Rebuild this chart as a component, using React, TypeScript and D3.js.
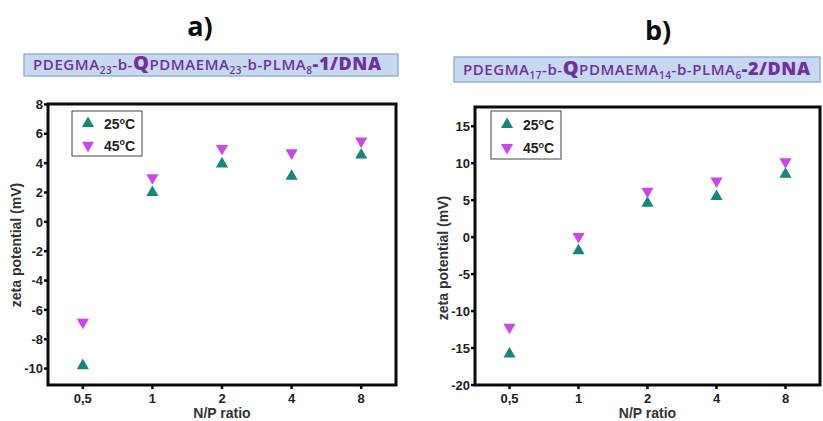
import React from "react";
import * as d3 from "d3";

const categories = ["0,5", "1", "2", "4", "8"];
const a25 = [-9.8, 2.0, 3.95, 3.1, 4.55];
const a45 = [-6.85, 3.0, 5.0, 4.7, 5.5];
const b25 = [-15.8, -1.85, 4.6, 5.5, 8.5];
const b45 = [-12.2, 0.1, 6.2, 7.6, 10.2];
const aTicks = [-10, -8, -6, -4, -2, 0, 2, 4, 6, 8];
const bTicks = [-20, -15, -10, -5, 0, 5, 10, 15];

const TEAL = "#17867c";
const MAGENTA = "#cc46ee";
const PURPLE = "#7030a0";
const INK = "#0a0a0a";
const FONT = "'Liberation Sans', Arial, sans-serif";
const TFONT = "'Open Sans', 'Noto Sans', sans-serif";

const up = d3.symbol().type(d3.symbolTriangle).size(64)();

function Panel({ box, domain, ticks, s25, s45, legend, ylabY }: any) {
  const x = d3.scalePoint().domain(categories).range([box.l + (box.r - box.l) / 10, box.r - (box.r - box.l) / 10]);
  const y = d3.scaleLinear().domain(domain).range([box.b, box.t]);
  const frame = `M${box.l},${box.t}H${box.r}V${box.b}H${box.l}Z`;
  return (
    <g fontFamily={FONT}>
      {ticks.map((t: number) => (
        <g key={t}>
          <line x1={box.l - 4} x2={box.l} y1={y(t)} y2={y(t)} style={{ stroke: INK, strokeWidth: 2.5 }} />
          <text x={box.l - 5} y={y(t)} dy="0.36em" textAnchor="end" fontSize={13} fontWeight="bold" fill="#222">
            {t}
          </text>
        </g>
      ))}
      {categories.map((c) => (
        <g key={c}>
          <line x1={x(c)} x2={x(c)} y1={box.b} y2={box.b + 4} style={{ stroke: INK, strokeWidth: 2.5 }} />
          <text x={x(c)} y={box.b + 18} textAnchor="middle" fontSize={13} fontWeight="bold" fill="#222">
            {c}
          </text>
        </g>
      ))}
      <path d={frame} style={{ fill: "none", stroke: INK, strokeWidth: 3 }} />
      {categories.map((c, i) => (
        <g key={"p" + c}>
          <path d={up as string} transform={`translate(${x(c)},${y(s25[i])})`} fill={TEAL} />
          <path d={up as string} transform={`translate(${x(c)},${y(s45[i])}) rotate(180)`} fill={MAGENTA} />
        </g>
      ))}
      <text
        transform={`translate(${box.l - 27},${ylabY}) rotate(-90)`}
        textAnchor="middle"
        fontSize={14}
        fontWeight="bold"
        fill="#333"
      >
        zeta potential (mV)
      </text>
      <text x={(box.l + box.r) / 2} y={box.b + 33} textAnchor="middle" fontSize={14} fontWeight="bold" fill="#333">
        N/P ratio
      </text>
      <rect x={legend.x} y={legend.y} width={70} height={legend.h} fill="#fff" stroke="#444" strokeWidth={1} />
      {[0, 1].map((k) => (
        <g key={k}>
          <path
            d={up as string}
            transform={`translate(${legend.x + 16},${legend.y + legend.h * (k === 0 ? 0.28 : 0.76)}) ${k === 1 ? "rotate(180)" : ""}`}
            fill={k === 0 ? TEAL : MAGENTA}
          />
          <text x={legend.x + 32} y={legend.y + legend.h * (k === 0 ? 0.28 : 0.76)} dy="0.4em" fontSize={14} fontWeight="bold" fill="#222">
            {k === 0 ? "25" : "45"}
            <tspan fontSize={9} dy="-0.6em">o</tspan>
            <tspan dy="0.4em">C</tspan>
          </text>
        </g>
      ))}
    </g>
  );
}

function Title({ x, y, w, h, tx, tw, subs, num }: any) {
  return (
    <g>
      <rect x={x} y={y} width={w} height={h} fill="#c6d9f0" stroke="#95b3d7" strokeWidth={1.5} />
      <text x={tx} y={y + h / 2 + 5} fontFamily={TFONT} fontSize={15} fontWeight={600} fill={PURPLE} textLength={tw} lengthAdjust="spacing">
        PDEGMA
        <tspan fontSize={10} dy={4}>{subs[0]}</tspan>
        <tspan dy={-4}>-b-</tspan>
        <tspan fontSize={20} fontWeight={800}>Q</tspan>
        <tspan>PDMAEMA</tspan>
        <tspan fontSize={10} dy={4}>{subs[1]}</tspan>
        <tspan dy={-4}>-b-PLMA</tspan>
        <tspan fontSize={10} dy={4}>{subs[2]}</tspan>
        <tspan dy={-4} fontSize={18} fontWeight={800}>{num}</tspan>
      </text>
    </g>
  );
}

export default function App() {
  return (
    <svg width={823} height={421} style={{ position: "absolute", left: 0, top: 0, background: "#fff" }}>
      <rect width={823} height={421} fill="#fff" />
      <text x={200} y={36} textAnchor="middle" fontFamily={TFONT} fontSize={27} fontWeight="bold" fill={INK}>a)</text>
      <text x={658} y={40} textAnchor="middle" fontFamily={TFONT} fontSize={27} fontWeight="bold" fill={INK}>b)</text>
      <Title x={24} y={54} w={374} h={22} tx={33} tw={348} subs={["23", "23", "8"]} num="-1/DNA" />
      <Title x={454} y={57} w={366} h={25} tx={463} tw={347} subs={["17", "14", "6"]} num="-2/DNA" />
      <Panel
        box={{ l: 48, r: 396, t: 104, b: 385 }}
        domain={[-11.12, 8.03]}
        ticks={aTicks}
        s25={a25}
        s45={a45}
        legend={{ x: 72, y: 111, h: 45 }}
        ylabY={245}
      />
      <Panel
        box={{ l: 475, r: 820, t: 107, b: 385 }}
        domain={[-20, 17.6]}
        ticks={bTicks}
        s25={b25}
        s45={b45}
        legend={{ x: 491, y: 111, h: 48 }}
        ylabY={258}
      />
    </svg>
  );
}
